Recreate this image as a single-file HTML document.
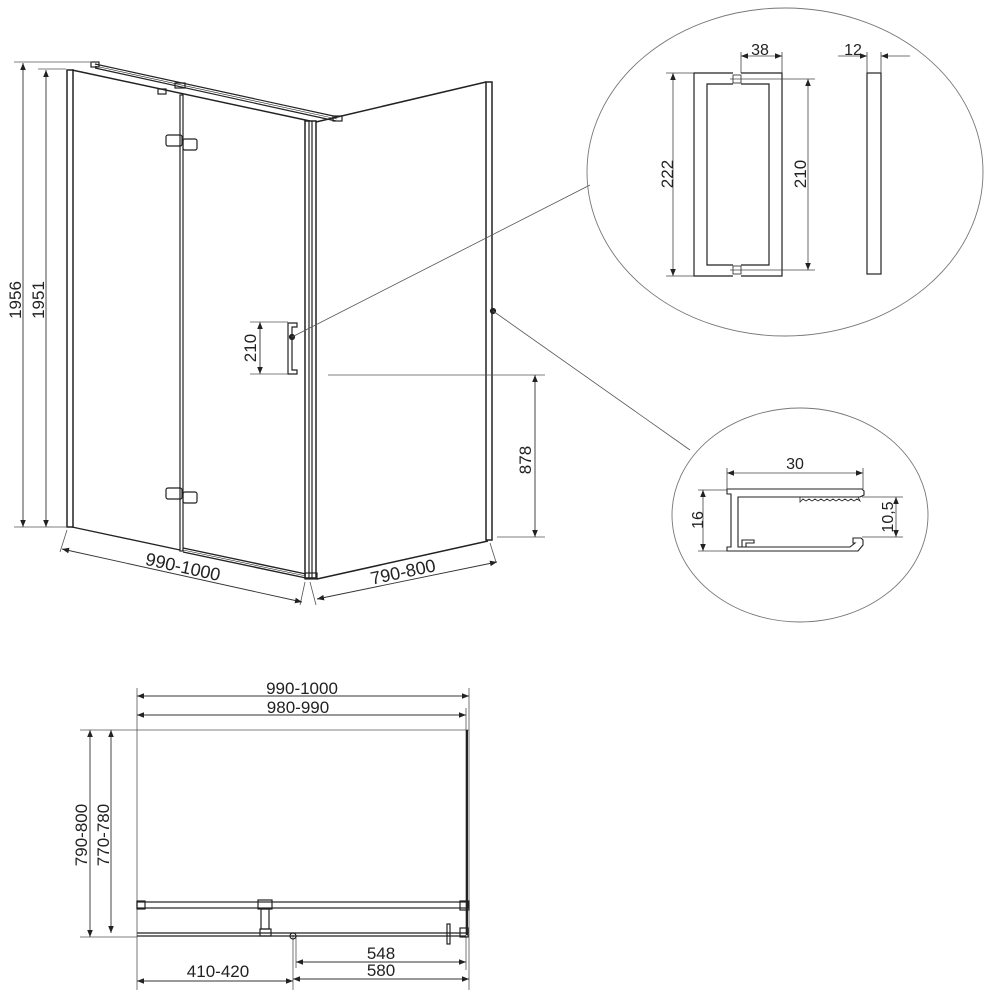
<!DOCTYPE html>
<html><head><meta charset="utf-8"><style>
html,body{margin:0;padding:0;background:#fff;width:1000px;height:1000px;overflow:hidden}
svg{display:block}
text{font-family:"Liberation Sans","DejaVu Sans",sans-serif;fill:#222}
</style></head><body>
<svg width="1000" height="1000" viewBox="0 0 1000 1000" xmlns="http://www.w3.org/2000/svg">
<defs>
<marker id="a" viewBox="0 0 10 10" refX="10" refY="5" markerWidth="9" markerHeight="7" orient="auto-start-reverse" markerUnits="userSpaceOnUse"><path d="M0,1 L10,5 L0,9 z" fill="#222"/></marker>
</defs>
<g stroke="#222" fill="none" stroke-width="1.2">
<rect x="67" y="70" width="6" height="457" fill="#fff" stroke-width="1.5"/>
<line x1="95" y1="64" x2="338" y2="117"/>
<line x1="95" y1="68" x2="336" y2="121"/>
<line x1="95" y1="66" x2="337" y2="119" stroke-width="0.6"/>
<rect x="91" y="62" width="8" height="5"/>
<rect x="175" y="83" width="10" height="5"/>
<rect x="158" y="89" width="8" height="5"/>
<rect x="333" y="116" width="9" height="5"/>
<line x1="72" y1="70" x2="310" y2="121" stroke-width="1.5"/>
<rect x="180" y="95" width="3" height="456" fill="#fff"/>
<rect x="166" y="135" width="16" height="11" rx="2"/>
<rect x="183" y="139" width="14" height="11" rx="2"/>
<rect x="166" y="488" width="16" height="11" rx="2"/>
<rect x="183" y="492" width="14" height="11" rx="2"/>
<rect x="305" y="121" width="11" height="457" fill="#fff" stroke-width="1.5"/>
<line x1="309" y1="121" x2="309" y2="578"/>
<line x1="312" y1="121" x2="312" y2="578"/>
<line x1="72" y1="527" x2="180" y2="550" stroke-width="1.4"/>
<line x1="183" y1="548" x2="306" y2="574" stroke-width="1.4"/>
<line x1="183" y1="552" x2="306" y2="578" stroke-width="1.4"/>
<line x1="183" y1="550" x2="306" y2="576" stroke-width="0.6"/>
<rect x="305" y="573" width="12" height="6"/>
<line x1="316" y1="122" x2="486" y2="82" stroke-width="1.5"/>
<rect x="486" y="82" width="6" height="458" fill="#fff" stroke-width="1.5"/>
<line x1="317" y1="579" x2="488" y2="541" stroke-width="1.5"/>
<path d="M288 323 V374 H297 V370 H292 V327 H297 V323 Z" fill="#fff"/>
<circle cx="292" cy="337" r="2.5" fill="#222"/>
<circle cx="493" cy="311" r="2.5" fill="#222"/>
</g>
<g stroke="#555" fill="none" stroke-width="0.8">
<line x1="14" y1="62" x2="92" y2="62"/>
<line x1="38" y1="69" x2="66" y2="69"/>
<line x1="14" y1="527" x2="66" y2="527"/>
<line x1="250" y1="322" x2="288" y2="322"/>
<line x1="250" y1="374" x2="288" y2="374"/>
<line x1="328" y1="375" x2="545" y2="375"/>
<line x1="497" y1="537" x2="545" y2="537"/>
<line x1="67" y1="530" x2="60" y2="552"/>
<line x1="305" y1="582" x2="300" y2="605"/>
<line x1="310" y1="582" x2="316" y2="605"/>
<line x1="490" y1="543" x2="496" y2="562"/>
<line x1="292" y1="337" x2="590" y2="185"/>
<line x1="493" y1="311" x2="690" y2="450"/>
</g>
<g stroke="#333" stroke-width="0.9" fill="none">
<line x1="23" y1="63" x2="23" y2="527" marker-start="url(#a)" marker-end="url(#a)"/>
<line x1="46" y1="70" x2="46" y2="527" marker-start="url(#a)" marker-end="url(#a)"/>
<line x1="260" y1="322" x2="260" y2="374" marker-start="url(#a)" marker-end="url(#a)"/>
<line x1="535" y1="375" x2="535" y2="537" marker-start="url(#a)" marker-end="url(#a)"/>
<line x1="62" y1="549" x2="302" y2="602" marker-start="url(#a)" marker-end="url(#a)"/>
<line x1="317" y1="599" x2="497" y2="562" marker-start="url(#a)" marker-end="url(#a)"/>
</g>
<text x="15" y="300" font-size="17" text-anchor="middle" transform="rotate(-90 15 300)" dy="6">1956</text>
<text x="38" y="300" font-size="17" text-anchor="middle" transform="rotate(-90 38 300)" dy="6">1951</text>
<text x="250" y="348" font-size="17" text-anchor="middle" transform="rotate(-90 250 348)" dy="6">210</text>
<text x="525" y="460" font-size="17" text-anchor="middle" transform="rotate(-90 525 460)" dy="6">878</text>
<text x="183" y="567" font-size="18" text-anchor="middle" transform="rotate(12.5 183 567)" dy="6">990-1000</text>
<text x="403" y="572" font-size="18" text-anchor="middle" transform="rotate(-12 403 572)" dy="6">790-800</text>

<!-- circle 1 -->
<ellipse cx="785" cy="172" rx="198" ry="164" stroke="#777" fill="none" stroke-width="0.9"/>
<g stroke="#222" fill="none" stroke-width="1.2">
<path d="M733 73 H694 V276 H733"/>
<path d="M741 73 H782 V276 H741"/>
<path d="M733 84 H707 V265 H733 M741 265 H769 V84 H741"/>
<rect x="733" y="75" width="8" height="8" stroke-width="0.8"/>
<rect x="733" y="266" width="8" height="8" stroke-width="0.8"/>
<rect x="867" y="73" width="14" height="201"/>
</g>
<g stroke="#444" stroke-width="0.8" fill="none">
<line x1="666" y1="73" x2="694" y2="73"/><line x1="666" y1="276" x2="694" y2="276"/>
<line x1="730" y1="79" x2="815" y2="79"/><line x1="730" y1="270" x2="815" y2="270"/>
<line x1="741" y1="52" x2="741" y2="73"/><line x1="782" y1="52" x2="782" y2="73"/>
<line x1="867" y1="52" x2="867" y2="73"/><line x1="881" y1="52" x2="881" y2="73"/>
<line x1="673" y1="73" x2="673" y2="276" marker-start="url(#a)" marker-end="url(#a)"/>
<line x1="808" y1="79" x2="808" y2="270" marker-start="url(#a)" marker-end="url(#a)"/>
<line x1="741" y1="56" x2="782" y2="56" marker-start="url(#a)" marker-end="url(#a)"/>
<line x1="838" y1="56" x2="867" y2="56" marker-end="url(#a)"/>
<line x1="910" y1="56" x2="881" y2="56" marker-end="url(#a)"/>
</g>
<text x="760" y="55" font-size="16" text-anchor="middle">38</text>
<text x="853" y="55" font-size="16" text-anchor="middle">12</text>
<text x="667" y="174" font-size="17" text-anchor="middle" transform="rotate(-90 667 174)" dy="6">222</text>
<text x="800" y="174" font-size="17" text-anchor="middle" transform="rotate(-90 800 174)" dy="6">210</text>

<!-- circle 2 -->
<ellipse cx="800" cy="515" rx="128" ry="107" stroke="#777" fill="none" stroke-width="0.9"/>
<g stroke="#222" fill="none" stroke-width="1.1">
<path d="M727 489 H862 L864 491 V495 L860 497 H738 V547 H850 L855 543 H853 V538 H861 L863 540 V545 L858 551 H727 V547 H731 V494 H727 Z"/>
<path d="M742 547 V540 H754 V543 H746 V547"/>
<path d="M800 497 V502 L803 499 l3 2 3 -2 3 2 3 -2 3 2 3 -2 3 2 3 -2 3 2 3 -2 3 2 3 -2 3 2 3 -2 3 2 3 -2 3 2 3 -2 3 2 L858 497" stroke-width="0.8"/>
</g>
<g stroke="#444" stroke-width="0.8" fill="none">
<line x1="727" y1="468" x2="727" y2="489"/><line x1="863" y1="468" x2="863" y2="489"/>
<line x1="698" y1="490" x2="727" y2="490"/><line x1="698" y1="551" x2="727" y2="551"/>
<line x1="862" y1="497" x2="903" y2="497"/><line x1="862" y1="537" x2="903" y2="537"/>
<line x1="727" y1="473" x2="863" y2="473" marker-start="url(#a)" marker-end="url(#a)"/>
<line x1="703" y1="490" x2="703" y2="551" marker-start="url(#a)" marker-end="url(#a)"/>
<line x1="896" y1="497" x2="896" y2="537" marker-start="url(#a)" marker-end="url(#a)"/>
</g>
<text x="795" y="469" font-size="16" text-anchor="middle">30</text>
<text x="697" y="520" font-size="16" text-anchor="middle" transform="rotate(-90 697 520)" dy="6">16</text>
<text x="887" y="517" font-size="16" text-anchor="middle" transform="rotate(-90 887 517)" dy="6">10,5</text>

<!-- bottom plan -->
<g stroke="#555" stroke-width="0.8" fill="none">
<line x1="137" y1="688" x2="137" y2="990"/>
<line x1="469" y1="688" x2="469" y2="990"/>
<line x1="466" y1="708" x2="466" y2="970"/>
<line x1="80" y1="730" x2="469" y2="730"/>
<line x1="80" y1="937" x2="137" y2="937"/>
<line x1="293" y1="935" x2="293" y2="990"/>
<line x1="296" y1="935" x2="296" y2="968"/>
</g>
<g stroke="#222" fill="none" stroke-width="1.2">
<line x1="467" y1="730" x2="467" y2="935" stroke-width="2"/>
<rect x="137" y="902" width="331" height="6"/>
<rect x="137" y="901" width="8" height="8"/>
<rect x="460" y="901" width="9" height="9"/>
<rect x="258" y="900" width="14" height="9"/>
<rect x="261" y="909" width="8" height="20"/>
<rect x="260" y="929" width="11" height="7"/>
<line x1="137" y1="933" x2="466" y2="933"/>
<line x1="137" y1="936" x2="466" y2="936"/>
<circle cx="293" cy="936" r="3"/>
<rect x="447" y="924" width="3" height="20"/>
<rect x="460" y="928" width="8" height="9"/>
</g>
<g stroke="#333" stroke-width="0.9" fill="none">
<line x1="137" y1="696" x2="469" y2="696" marker-start="url(#a)" marker-end="url(#a)"/>
<line x1="137" y1="715" x2="466" y2="715" marker-start="url(#a)" marker-end="url(#a)"/>
<line x1="90" y1="730" x2="90" y2="937" marker-start="url(#a)" marker-end="url(#a)"/>
<line x1="111" y1="730" x2="111" y2="933" marker-start="url(#a)" marker-end="url(#a)"/>
<line x1="137" y1="981" x2="293" y2="981" marker-start="url(#a)" marker-end="url(#a)"/>
<line x1="296" y1="962" x2="466" y2="962" marker-start="url(#a)" marker-end="url(#a)"/>
<line x1="293" y1="979" x2="469" y2="979" marker-start="url(#a)" marker-end="url(#a)"/>
</g>
<text x="302" y="694" font-size="17" text-anchor="middle">990-1000</text>
<text x="298" y="713" font-size="17" text-anchor="middle">980-990</text>
<text x="81" y="835" font-size="17" text-anchor="middle" transform="rotate(-90 81 835)" dy="6">790-800</text>
<text x="103" y="835" font-size="17" text-anchor="middle" transform="rotate(-90 103 835)" dy="6">770-780</text>
<text x="218" y="977" font-size="17" text-anchor="middle">410-420</text>
<text x="381" y="959" font-size="17" text-anchor="middle">548</text>
<text x="381" y="976" font-size="17" text-anchor="middle">580</text>
</svg>
</body></html>
